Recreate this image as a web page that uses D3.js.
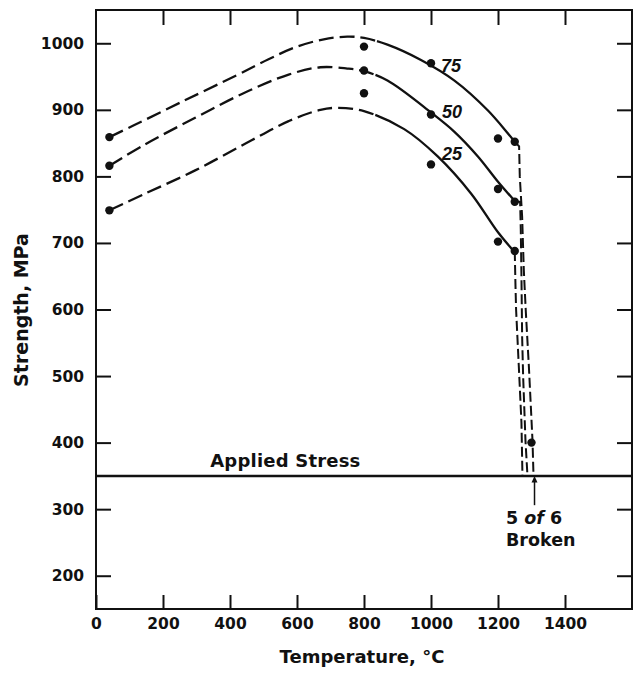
<!DOCTYPE html>
<html>
<head>
<meta charset="utf-8">
<script src="https://cdn.jsdelivr.net/npm/d3@7/dist/d3.min.js"></script>
<style>
  html, body { margin: 0; padding: 0; background: #fff; }
  svg { display: block; }
  text { font-family: "DejaVu Sans", sans-serif; font-weight: bold; fill: #111; }
  text.curvelab { font-family: "Liberation Sans", sans-serif; font-style: italic; font-weight: bold; }
</style>
</head>
<body>
<svg id="chart" width="637" height="681"></svg>
<script>
// ---- data ----
const xTicks = [0, 200, 400, 600, 800, 1000, 1200, 1400];
const yTicks = [200, 300, 400, 500, 600, 700, 800, 900, 1000];

const curve75 = [[40,859],[110,876],[260,913],[420,952],[515,976],[595,994],[680,1006],[750,1010],[800,1008],[870,998],[970,975],[1070,944],[1170,899],[1250,852]];
const curve50 = [[40,816],[146,848],[296,888],[445,926],[575,953],[670,964],[750,962],[800,958],[870,944],[1000,896],[1070,867],[1140,830],[1200,792],[1250,763]];
const curve25 = [[40,749],[146,774],[296,809],[445,849],[575,883],[670,900],[720,903],[800,898],[920,871],[1020,830],[1120,774],[1200,716],[1250,686]];
const splitTemp = 795; // dashed below, solid above

const drop75 = [[1250,852],[1263,845],[1265,800],[1272,740],[1277,660],[1283,597],[1292,516],[1303,403],[1306,350]];
const drop50 = [[1250,762],[1266,762],[1268,720],[1270,650],[1272,560],[1275,500],[1282,403],[1288,350]];
const drop25 = [[1250,688],[1252,640],[1254,600],[1262,516],[1270,430],[1273,350]];

const points75 = [[40,859],[800,995],[1000,970],[1200,857],[1250,852]];
const points50 = [[40,816],[800,959],[1000,893],[1200,781],[1250,762]];
const points25 = [[40,749],[800,925],[1000,818],[1200,702],[1250,688]];
const pointsBroken = [[1300,400]];

const appliedStress = 350;
const curveLabels = [{text:"75", t:1030, s:957},{text:"50", t:1033, s:888},{text:"25", t:1033, s:825}];

// ---- layout ----
const svg = d3.select("#chart");
const x = d3.scaleLinear().domain([0, 1600]).range([96, 632]);
const y = d3.scaleLinear().domain([150, 1050]).range([609, 10]);

const ink = "#111";
const line = d3.line().x(d => x(d[0])).y(d => y(d[1]));
const smooth = d3.line().x(d => x(d[0])).y(d => y(d[1])).curve(d3.curveCatmullRom.alpha(0.5));

// frame
svg.append("rect")
  .attr("x", x(0)).attr("y", y(1050))
  .attr("width", x(1600) - x(0)).attr("height", y(150) - y(1050))
  .attr("fill", "none").attr("stroke", ink).attr("stroke-width", 2);

function styleAxis(g) {
  g.select(".domain").remove();
  g.selectAll(".tick line").attr("stroke", ink).attr("stroke-width", 2);
  g.selectAll("text").attr("font-family", null).attr("font-size", 15.5).attr("fill", ink);
}

svg.append("g").attr("transform", `translate(${x(0)},0)`)
  .call(d3.axisLeft(y).tickValues(yTicks).tickSizeInner(-15).tickSizeOuter(0).tickPadding(12).tickFormat(d3.format("d")))
  .call(styleAxis);
svg.append("g").attr("transform", `translate(${x(1600)},0)`)
  .call(d3.axisRight(y).tickValues(yTicks).tickSizeInner(-15).tickSizeOuter(0).tickFormat(""))
  .call(styleAxis);
svg.append("g").attr("transform", `translate(0,${y(150)})`)
  .call(d3.axisBottom(x).tickValues(xTicks).tickSizeInner(-14).tickSizeOuter(0).tickPadding(9).tickFormat(d3.format("d")))
  .call(styleAxis);
svg.append("g").attr("transform", `translate(0,${y(1050)})`)
  .call(d3.axisTop(x).tickValues(xTicks.filter(d => d > 0)).tickSizeInner(-15).tickSizeOuter(0).tickFormat(""))
  .call(styleAxis);

// applied stress line
svg.append("line")
  .attr("x1", x(0)).attr("x2", x(1600))
  .attr("y1", y(appliedStress)).attr("y2", y(appliedStress))
  .attr("stroke", ink).attr("stroke-width", 2.5);
svg.append("text").attr("x", x(341)).attr("y", y(363))
  .attr("font-size", 18).style("letter-spacing", "0.2px").text("Applied Stress");

// curves: one smooth path each, dashed up to splitTemp, solid after
[curve75, curve50, curve25].forEach(c => {
  const p = svg.append("path").attr("d", smooth(c)).attr("fill", "none")
    .attr("stroke", ink).attr("stroke-width", 2.3);
  const node = p.node();
  const total = node.getTotalLength();
  const targetX = x(splitTemp);
  let lo = 0, hi = total;
  for (let i = 0; i < 40; i++) {
    const mid = (lo + hi) / 2;
    if (node.getPointAtLength(mid).x < targetX) lo = mid; else hi = mid;
  }
  const splitLen = lo;
  const dash = 15, gap = 6;
  const arr = [];
  let acc = 0;
  while (acc + dash + gap < splitLen) { arr.push(dash, gap); acc += dash + gap; }
  arr.push(dash, Math.max(0, splitLen - acc - dash) + 2);
  arr.push(total, total);
  p.attr("stroke-dasharray", arr.join(","));
});

// drop lines
[drop75, drop50, drop25].forEach(c => {
  svg.append("path").attr("d", line(c)).attr("fill", "none")
    .attr("stroke", ink).attr("stroke-width", 2).attr("stroke-dasharray", "10,4");
});

// points
[points75, points50, points25, pointsBroken].forEach(p => {
  svg.append("g").selectAll("circle").data(p).join("circle")
    .attr("cx", d => x(d[0])).attr("cy", d => y(d[1])).attr("r", 4.2).attr("fill", ink);
});

// curve labels
svg.append("g").selectAll("text").data(curveLabels).join("text")
  .attr("class", "curvelab")
  .attr("x", d => x(d.t)).attr("y", d => y(d.s))
  .attr("font-size", 18).text(d => d.text);

// 5 of 6 broken annotation
const arrowT = 1309;
svg.append("line").attr("x1", x(arrowT)).attr("x2", x(arrowT))
  .attr("y1", y(306)).attr("y2", y(343))
  .attr("stroke", ink).attr("stroke-width", 1.5);
svg.append("path")
  .attr("d", `M${x(arrowT)},${y(350)} L${x(arrowT)-3},${y(340)} L${x(arrowT)+3},${y(340)} Z`)
  .attr("fill", ink);
const t1 = svg.append("text").attr("x", x(1224)).attr("y", y(277)).attr("font-size", 17.5);
t1.append("tspan").text("5 ");
t1.append("tspan").style("font-style", "italic").text("of");
t1.append("tspan").text(" 6");
svg.append("text").attr("x", x(1224)).attr("y", y(245)).attr("font-size", 17.5).text("Broken");

// axis titles
svg.append("text").attr("x", 362).attr("y", 663).attr("text-anchor", "middle")
  .attr("font-size", 18).text("Temperature, °C");
svg.append("text").attr("transform", "translate(28,310) rotate(-90)").attr("text-anchor", "middle")
  .attr("font-size", 19).text("Strength, MPa");
</script>
</body>
</html>
